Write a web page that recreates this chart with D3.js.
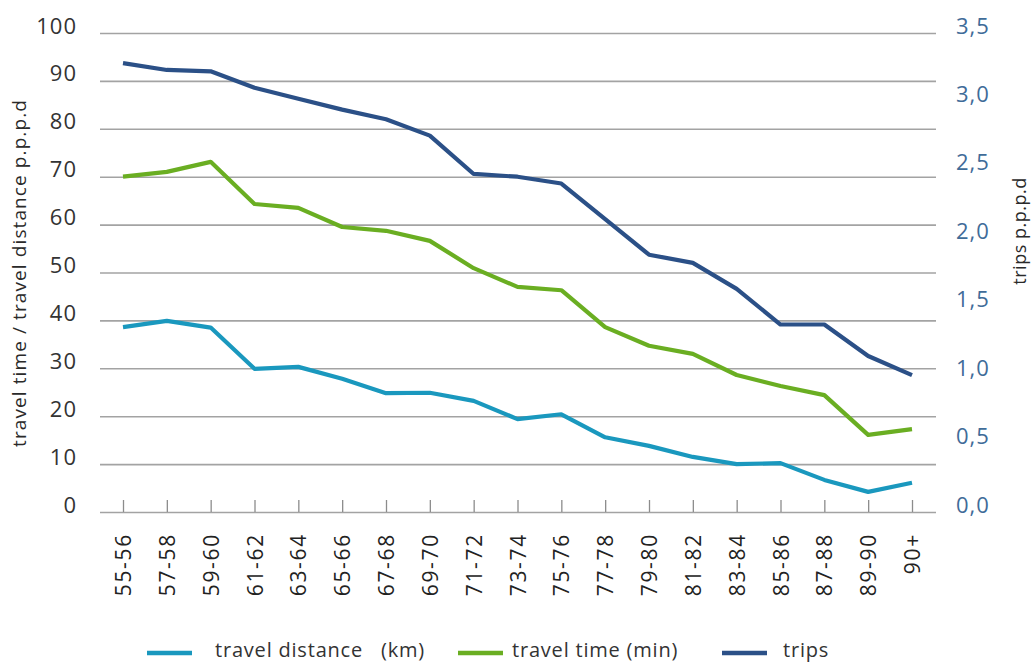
<!DOCTYPE html>
<html>
<head>
<meta charset="utf-8">
<script src="https://cdn.jsdelivr.net/npm/d3@7"></script>
<style>
  html, body { margin: 0; padding: 0; background: #fff; }
  svg { display: block; font-family: "Open Sans", sans-serif; }
</style>
</head>
<body>
<svg id="chart" width="1032" height="662"></svg>
<script>
const categories = ["55-56","57-58","59-60","61-62","63-64","65-66","67-68","69-70","71-72","73-74","75-76","77-78","79-80","81-82","83-84","85-86","87-88","89-90","90+"];
const travelDistance = [38.6, 39.9, 38.5, 29.9, 30.3, 27.8, 24.8, 24.9, 23.2, 19.4, 20.4, 15.6, 13.8, 11.5, 10.0, 10.2, 6.7, 4.2, 6.1];
const travelTime = [70.0, 71.0, 73.1, 64.3, 63.5, 59.5, 58.7, 56.6, 50.9, 47.0, 46.3, 38.6, 34.7, 33.0, 28.6, 26.3, 24.4, 16.1, 17.3];
const trips = [3.28, 3.23, 3.22, 3.10, 3.02, 2.94, 2.87, 2.75, 2.47, 2.45, 2.40, 2.14, 1.88, 1.82, 1.63, 1.37, 1.37, 1.14, 1.00];
const leftTicks = [0,10,20,30,40,50,60,70,80,90,100];
const rightTicks = [0,0.5,1.0,1.5,2.0,2.5,3.0,3.5];
const seriesNames = ["travel distance   (km)", "travel time (min)", "trips"];

const colors = { dist: "#1a98be", time: "#6aae22", trips: "#2b5087" };

const svg = d3.select("#chart");
const plotLeft = 100, plotRight = 936, plotTop = 33, plotBottom = 512;

const x = d3.scalePoint().domain(categories).range([123, 912]);
const yL = d3.scaleLinear().domain([0,100]).range([plotBottom, plotTop]);
const yR = d3.scaleLinear().domain([0,3.5]).range([plotBottom, plotTop]);

// gridlines
const grid = svg.append("g").attr("transform", `translate(${plotLeft},0)`)
  .call(d3.axisRight(yL).tickValues(leftTicks).tickSize(plotRight - plotLeft).tickFormat(""));
grid.select(".domain").remove();
grid.selectAll("line").attr("stroke", "#a3a3a3").attr("stroke-width", 1.6);

// left axis labels
const la = svg.append("g").attr("transform", `translate(${plotLeft},0)`)
  .call(d3.axisLeft(yL).tickValues(leftTicks).tickSize(0).tickPadding(23));
la.select(".domain").remove();
la.selectAll("text").attr("dy", "0").attr("y", 0)
  .attr("fill", "#333").style("font-size", "22px").style("letter-spacing", "1px")
  .style("font-family", "'Open Sans', sans-serif");

// right axis labels
const ra = svg.append("g").attr("transform", `translate(${plotRight},0)`)
  .call(d3.axisRight(yR).tickValues(rightTicks).tickSize(0).tickPadding(20)
    .tickFormat(d => d3.format(".1f")(d).replace(".", ",")));
ra.select(".domain").remove();
ra.selectAll("text").attr("dy", "0").attr("y", 0)
  .attr("fill", "#3f6c99").style("font-size", "22px").style("letter-spacing", "1px")
  .style("font-family", "'Open Sans', sans-serif");

// x axis
const xa = svg.append("g").attr("transform", `translate(0,${plotBottom})`)
  .call(d3.axisBottom(x).tickSize(-12).tickSizeOuter(0));
xa.select(".domain").remove();
xa.selectAll("line").attr("stroke", "#8c8c8c").attr("stroke-width", 1.3);
xa.selectAll("text")
  .attr("transform", "rotate(-90)")
  .attr("text-anchor", "end")
  .attr("x", -21).attr("y", 0).attr("dy", "0.36em")
  .attr("fill", "#222").style("font-size", "21px").style("letter-spacing", "1.7px")
  .style("font-family", "'Open Sans', sans-serif");

// axis titles
svg.append("text")
  .attr("transform", `translate(26,273) rotate(-90)`)
  .attr("text-anchor", "middle")
  .attr("fill", "#2a2a2a").style("font-size", "19px").style("letter-spacing", "1.1px")
  .text("travel time / travel distance p.p.p.d");
svg.append("text")
  .attr("transform", `translate(1026,231) rotate(-90)`)
  .attr("text-anchor", "middle")
  .attr("fill", "#2a2a2a").style("font-size", "18px").style("letter-spacing", "0.5px")
  .text("trips p.p.p.d");

// lines
const lineL = d3.line().x((d,i) => x(categories[i])).y(d => yL(d));
const lineR = d3.line().x((d,i) => x(categories[i])).y(d => yR(d));

svg.append("path").datum(travelDistance).attr("d", lineL)
  .attr("fill", "none").attr("stroke", colors.dist).attr("stroke-width", 4.2)
  .attr("stroke-linejoin", "round");
svg.append("path").datum(travelTime).attr("d", lineL)
  .attr("fill", "none").attr("stroke", colors.time).attr("stroke-width", 4.2)
  .attr("stroke-linejoin", "round");
svg.append("path").datum(trips).attr("d", lineR)
  .attr("fill", "none").attr("stroke", colors.trips).attr("stroke-width", 4.2)
  .attr("stroke-linejoin", "round");

// legend
const legendItems = [
  { name: seriesNames[0], color: colors.dist, x0: 147, tx: 215 },
  { name: seriesNames[1], color: colors.time, x0: 458, tx: 512 },
  { name: seriesNames[2], color: colors.trips, x0: 722, tx: 783 }
];
const lg = svg.append("g");
legendItems.forEach(it => {
  lg.append("line").attr("x1", it.x0).attr("x2", it.x0 + 45).attr("y1", 653).attr("y2", 653)
    .attr("stroke", it.color).attr("stroke-width", 4.5);
  lg.append("text").attr("x", it.tx).attr("y", 657)
    .attr("fill", "#333").style("font-size", "20px").style("letter-spacing", "0.8px")
    .style("white-space", "pre").attr("xml:space", "preserve")
    .text(it.name);
});
</script>
</body>
</html>
